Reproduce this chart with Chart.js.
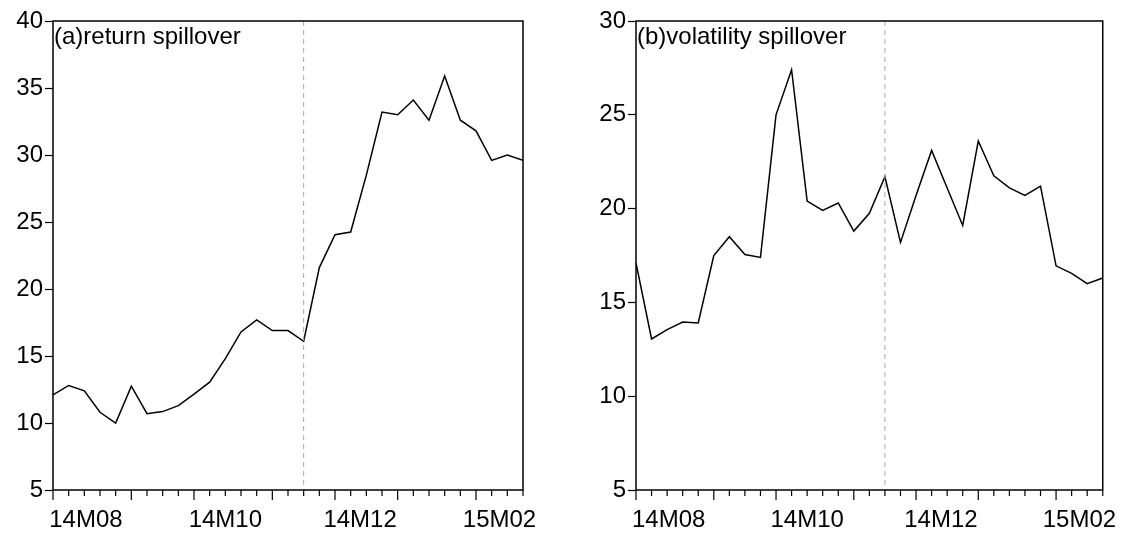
<!DOCTYPE html>
<html>
<head>
<meta charset="utf-8">
<script src="https://cdn.jsdelivr.net/npm/chart.js@4.4.1/dist/chart.umd.min.js"></script>
<style>
  html, body { margin: 0; padding: 0; background: #fff; }
  body { width: 1125px; height: 533px; position: relative; overflow: hidden; }
  canvas { position: absolute; top: 0; }
  #left { left: 0; }
  #right { left: 580px; }
</style>
</head>
<body>
<canvas id="left" width="560" height="533"></canvas>
<canvas id="right" width="545" height="533"></canvas>
<script>
// weekly spillover index, 14M08 week 1 .. 15M02 last week (31 weeks)
const returnSpill = [12.1, 12.8, 12.4, 10.8, 10.0, 12.75, 10.7, 10.85, 11.3, 12.15,
    13.05, 14.8, 16.8, 17.7, 16.9, 16.9, 16.1, 21.6, 24.05, 24.25,
    28.5, 33.2, 33.0, 34.1, 32.6, 35.9, 32.6, 31.8, 29.6, 30.0, 29.6];
const volSpill = [17.1, 13.05, 13.55, 13.95, 13.9, 17.5, 18.5, 17.55, 17.4, 25.0,
    27.4, 20.4, 19.9, 20.3, 18.8, 19.75, 21.7, 18.2, 20.7, 23.1,
    21.1, 19.1, 23.6, 21.75, 21.1, 20.7, 21.2, 16.95, 16.55, 16.0, 16.3];
const tickLabels = ['14M08', '14M10', '14M12', '15M02'];
const tickLabelPos = [2.1, 11.0, 19.6, 28.5];   // label centres, in weeks
const monthStarts = [0, 5, 9, 14, 18, 22, 27];   // week index of each month start
const breakWeek = 16;                            // dashed vertical line

const FONT = "'Liberation Sans', Arial, sans-serif";

// frame, x tick marks, dashed break line and panel title
const panelDeco = {
    id: 'panelDeco',
    afterDatasetsDraw(chart, args, opts) {
        const ctx = chart.ctx;
        const a = chart.chartArea;
        const xs = chart.scales.x;
        ctx.save();
        // dashed break
        const bx = xs.getPixelForValue(breakWeek);
        ctx.strokeStyle = '#a8a8a8';
        ctx.lineWidth = 1;
        ctx.setLineDash([5, 4]);
        ctx.beginPath();
        ctx.moveTo(bx, a.top);
        ctx.lineTo(bx, a.bottom);
        ctx.stroke();
        ctx.setLineDash([]);
        // frame
        ctx.strokeStyle = '#000';
        ctx.lineWidth = 1.5;
        ctx.strokeRect(a.left, a.top, a.right - a.left, a.bottom - a.top);
        // weekly ticks, longer at month starts
        ctx.lineWidth = 1.2;
        for (let i = 0; i <= 30; i++) {
            const px = xs.getPixelForValue(i);
            const len = monthStarts.includes(i) ? 10 : 6;
            ctx.beginPath();
            ctx.moveTo(px, a.bottom);
            ctx.lineTo(px, a.bottom + len);
            ctx.stroke();
        }
        // title
        ctx.fillStyle = '#000';
        ctx.font = '24px ' + FONT;
        ctx.textAlign = 'left';
        ctx.textBaseline = 'alphabetic';
        ctx.fillText(opts.title, a.left + 1, a.top + 23);
        ctx.restore();
    }
};

function makePanel(id, values, yMax, title, yWidth, padRight) {
    return new Chart(document.getElementById(id), {
        type: 'line',
        data: {
            datasets: [{
                data: values.map((v, i) => ({ x: i, y: v })),
                borderColor: '#000',
                borderWidth: 1.5,
                pointRadius: 0,
                tension: 0,
                fill: false
            }]
        },
        options: {
            responsive: false,
            animation: false,
            events: [],
            layout: { padding: { top: 21, right: padRight, bottom: 0, left: 0 } },
            plugins: {
                legend: { display: false },
                tooltip: { enabled: false },
                panelDeco: { title: title }
            },
            scales: {
                x: {
                    type: 'linear',
                    min: 0,
                    max: 30,
                    afterBuildTicks: (scale) => {
                        scale.ticks = tickLabelPos.map(v => ({ value: v }));
                    },
                    afterFit: (scale) => { scale.height = 43; },
                    grid: { display: false },
                    border: { display: false },
                    ticks: {
                        autoSkip: false,
                        maxRotation: 0,
                        padding: 8,
                        color: '#000',
                        font: { family: FONT, size: 24 },
                        callback: (v, i) => tickLabels[i]
                    }
                },
                y: {
                    min: 5,
                    max: yMax,
                    afterFit: (scale) => { scale.width = yWidth; },
                    grid: {
                        drawOnChartArea: false,
                        tickLength: 8,
                        tickColor: '#000',
                        tickWidth: 1.2
                    },
                    border: { display: false },
                    ticks: {
                        stepSize: 5,
                        padding: 2,
                        color: '#000',
                        font: { family: FONT, size: 24 }
                    }
                }
            }
        },
        plugins: [panelDeco]
    });
}

makePanel('left', returnSpill, 40, '(a)return spillover', 53, 37);
makePanel('right', volSpill, 30, '(b)volatility spillover', 56, 18);
</script>
</body>
</html>
